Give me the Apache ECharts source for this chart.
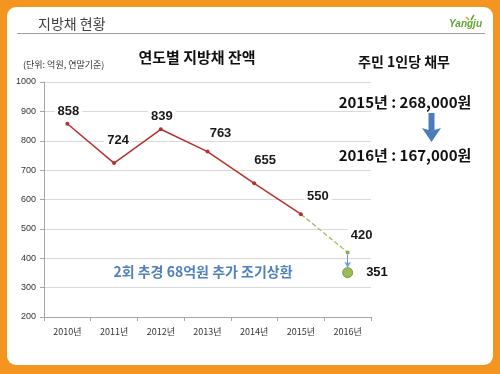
<!DOCTYPE html>
<html><head><meta charset="utf-8">
<script src="https://cdn.jsdelivr.net/npm/echarts@6/dist/echarts.min.js"></script>
<style>html,body{margin:0;padding:0;background:#fff}#c{width:500px;height:374px}</style>
</head><body><div id="c"></div>
<script>
var categories = ['2010년','2011년','2012년','2013년','2014년','2015년','2016년'];
var balance = [858, 724, 839, 763, 655, 550, null];
var planned = [null, null, null, null, null, 550, 420];
var actual2016 = [null, null, null, null, null, null, 351];
var yTicks = {min: 200, max: 1000, interval: 100};
// label placement (style only)
var balanceLabelOffsets = [[1,-12],[4,-23],[1,-13],[13,-18],[11,-23],[17,-18],[0,0]];
var plannedLabelOffset = [14,-17];

var chart = echarts.init(document.getElementById('c'), null, {renderer:'canvas'});
var labelFont = {fontFamily:'Liberation Sans, Arial, sans-serif', fontWeight:'bold', fontSize:13, color:'#1a1a1a', backgroundColor:'#fff', padding:[0,3]};

function withLabels(arr, offsets) {
  return arr.map(function(v,i){
    if (v === null) return null;
    return {value:v, label:Object.assign({show:true, position:'inside', offset:offsets[i]}, labelFont)};
  });
}

var plannedData = planned.map(function(v,i){
  if (v === null) return null;
  if (i === planned.length-1) return {value:v, label:Object.assign({show:true, position:'inside', offset:plannedLabelOffset}, labelFont)};
  return {value:v, symbolSize:0};
});
var last = categories[categories.length-1];
var from = planned[planned.length-1], to = actual2016[actual2016.length-1];

var korean = 'Noto Sans CJK KR, sans-serif';
chart.setOption({
  animation:false,
  backgroundColor:'#F4951F',
  grid:{left:44, right:129, top:82, bottom:57},
  xAxis:{type:'category', data:categories, boundaryGap:true,
    axisLine:{lineStyle:{color:'#A6A6A6'}},
    axisTick:{show:true, length:4, lineStyle:{color:'#A6A6A6'}},
    axisLabel:{fontSize:9, color:'#333', margin:10, fontFamily:korean}},
  yAxis:{type:'value', min:yTicks.min, max:yTicks.max, interval:yTicks.interval,
    axisLine:{show:true, lineStyle:{color:'#A6A6A6'}},
    axisTick:{show:true, length:4, lineStyle:{color:'#A6A6A6'}},
    splitLine:{lineStyle:{color:'#D9D9D9'}},
    axisLabel:{fontSize:9, color:'#333', margin:8, fontFamily:'Liberation Sans, Arial, sans-serif', formatter:function(v){return String(v);}}},
  graphic:[
    {type:'rect', z:-10, shape:{x:7, y:7, width:486, height:358, r:9}, style:{fill:'#fff'}},
    {type:'line', shape:{x1:17, y1:33.5, x2:485, y2:33.5}, style:{stroke:'#A0A0A0', lineWidth:1}},
    {type:'text', x:38, y:24, style:{text:'지방채 현황', font:'14px '+korean, fill:'#404040', verticalAlign:'middle'}},
    {type:'text', x:482, y:24, style:{text:'Yangju', font:'italic bold 10px Liberation Sans, Arial, sans-serif', fill:'#5DA52E', align:'right', verticalAlign:'middle'}},
    {type:'line', shape:{x1:466, y1:17, x2:469, y2:20}, style:{stroke:'#F4951F', lineWidth:1.5}},
    {type:'line', shape:{x1:474, y1:15, x2:471, y2:20}, style:{stroke:'#5DA52E', lineWidth:1.5}},
    {type:'text', x:197, y:57, style:{text:'연도별 지방채 잔액', font:'bold 15px '+korean, fill:'#111', align:'center', verticalAlign:'middle'}},
    {type:'text', x:23, y:65, style:{text:'(단위: 억원, 연말기준)', font:'9px '+korean, fill:'#333', verticalAlign:'middle'}},
    {type:'text', x:404, y:62, style:{text:'주민 1인당 채무', font:'bold 14px '+korean, fill:'#111', align:'center', verticalAlign:'middle'}},
    {type:'text', x:405, y:102, style:{text:'2015년 : 268,000원', font:'bold 15px '+korean, fill:'#111', align:'center', verticalAlign:'middle'}},
    {type:'text', x:405, y:155, style:{text:'2016년 : 167,000원', font:'bold 15px '+korean, fill:'#111', align:'center', verticalAlign:'middle'}},
    {type:'polygon', shape:{points:[[428.5,113],[434.5,113],[434.5,130],[441,128],[431.5,142],[422,128],[428.5,130]]}, style:{fill:'#4A7EBB'}},
    {type:'text', x:203, y:272, style:{text:'2회 추경 68억원 추가 조기상환', font:'bold 14px '+korean, fill:'#4F81BD', align:'center', verticalAlign:'middle'}}
  ],
  series:[
    {type:'line', data:withLabels(balance, balanceLabelOffsets), symbol:'circle', symbolSize:4,
      lineStyle:{color:'#B8302E', width:1.5}, itemStyle:{color:'#B8302E'}, z:3},
    {type:'line', data:plannedData, symbol:'circle', symbolSize:4,
      lineStyle:{color:'#9BBB59', width:1.2, type:'dashed'}, itemStyle:{color:'#8AAA48'}, z:2},
    {type:'scatter', data:actual2016, symbol:'circle', symbolSize:10,
      itemStyle:{color:'#9BBB59', borderColor:'#7E9A44', borderWidth:1, opacity:1}, z:4,
      label:{show:true, position:'right', distance:13, fontFamily:'Liberation Sans, Arial, sans-serif', fontWeight:'bold', fontSize:13, color:'#111', opacity:1},
      markLine:{silent:true, symbol:['none','arrow'], symbolSize:[5,6], label:{show:false},
        lineStyle:{color:'#6F9BD8', width:1, type:'solid'},
        data:[[{coord:[last, from-8]},{coord:[last, to+17]}]]}}
  ]
});
</script></body></html>
